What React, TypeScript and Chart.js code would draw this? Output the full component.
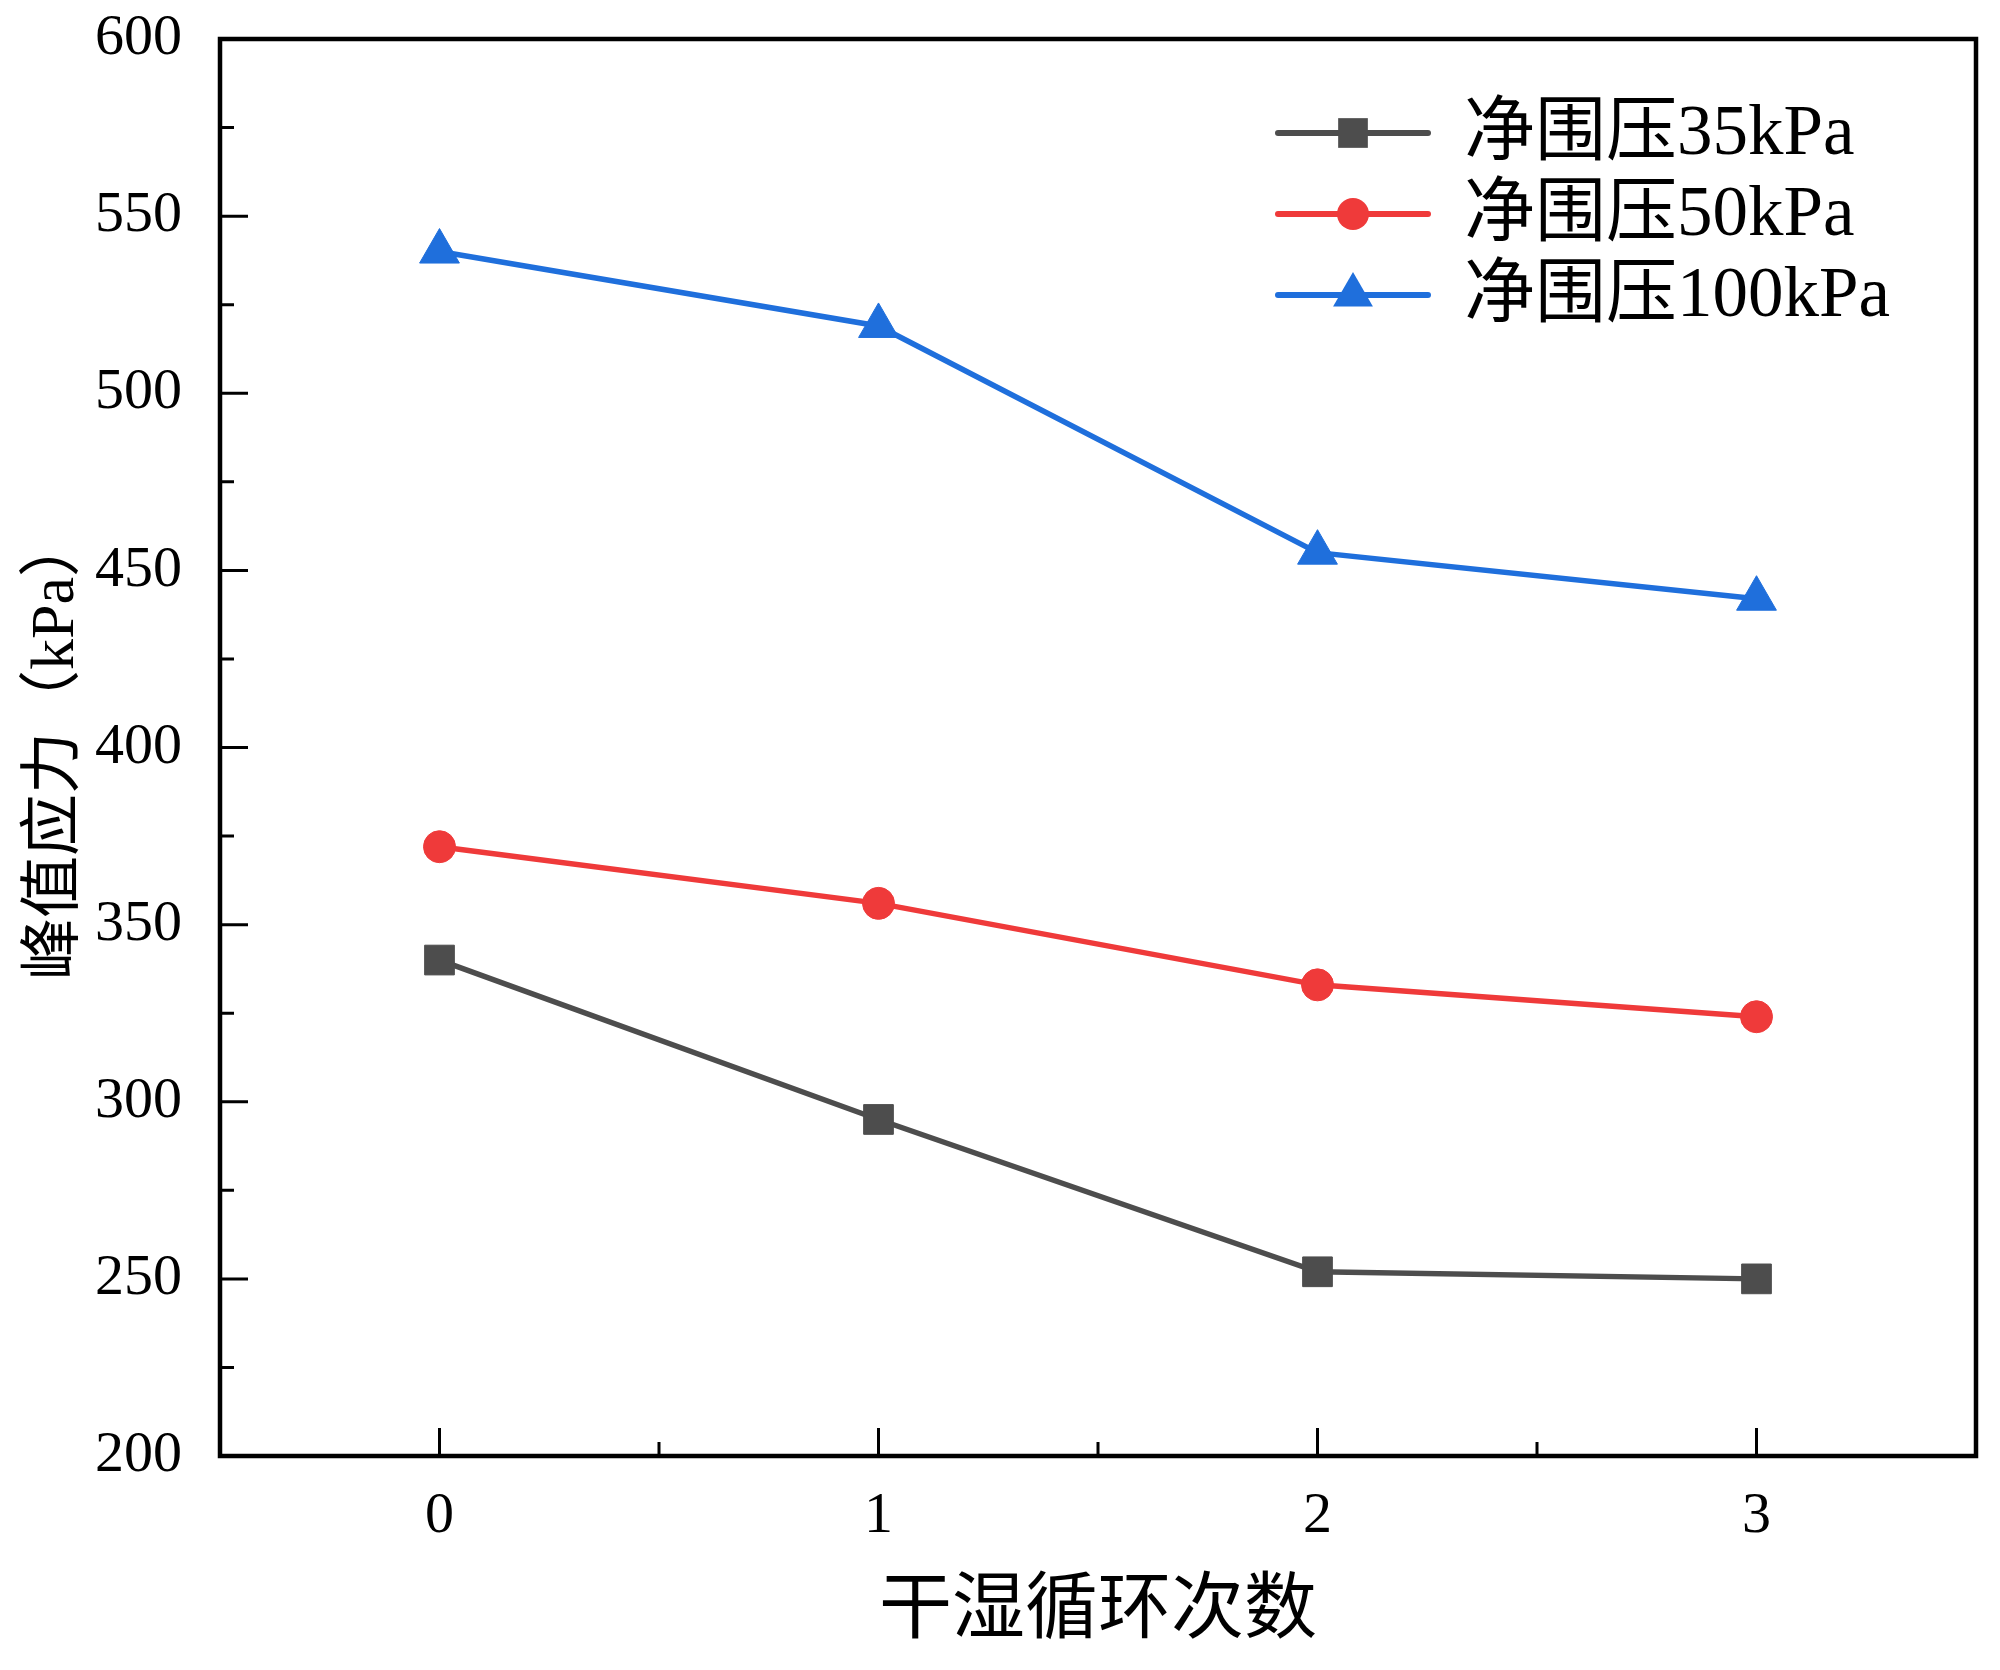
import { useEffect, useRef } from "react"
import { Chart, registerables } from "chart.js"

Chart.register(...registerables)

const cycles = [0, 1, 2, 3]
const stress35 = [340, 295, 252, 250]
const stress50 = [372, 356, 333, 324]
const stress100 = [540, 519, 455, 442]
const seriesNames = ["净围压35kPa", "净围压50kPa", "净围压100kPa"]
const yTicks = [200, 250, 300, 350, 400, 450, 500, 550, 600]
const yMinorTicks = [225, 275, 325, 375, 425, 475, 525, 575]
const xMinorTicks = [0.5, 1.5, 2.5]

const FONT = "'Liberation Serif', 'Noto Sans CJK SC', serif"
const colors = ["#4d4d4d", "#ef3a3a", "#1f6fdc"]
const pointStyles = ["rect", "circle", "triangle"]
const pointRadii = [21, 16, 23]

// frame round the plot area, with the ticks pointing inward
const framePlugin = {
	id: "frame",
	afterDraw(chart: any) {
		const { ctx, chartArea: a, scales } = chart
		ctx.save()
		ctx.strokeStyle = "#000"
		ctx.lineWidth = 4.5
		ctx.strokeRect(a.left, a.top, a.right - a.left, a.bottom - a.top)
		ctx.lineWidth = 3
		ctx.beginPath()
		yTicks.forEach((v) => {
			const y = scales.y.getPixelForValue(v)
			ctx.moveTo(a.left, y)
			ctx.lineTo(a.left + 28, y)
		})
		yMinorTicks.forEach((v) => {
			const y = scales.y.getPixelForValue(v)
			ctx.moveTo(a.left, y)
			ctx.lineTo(a.left + 14, y)
		})
		cycles.forEach((v) => {
			const x = scales.x.getPixelForValue(v)
			ctx.moveTo(x, a.bottom)
			ctx.lineTo(x, a.bottom - 28)
		})
		xMinorTicks.forEach((v) => {
			const x = scales.x.getPixelForValue(v)
			ctx.moveTo(x, a.bottom)
			ctx.lineTo(x, a.bottom - 14)
		})
		ctx.stroke()
		ctx.restore()
	}
}

function marker(ctx: CanvasRenderingContext2D, style: string, r: number, x: number, y: number) {
	ctx.beginPath()
	if (style === "rect") {
		const s = r * Math.SQRT1_2
		ctx.rect(x - s, y - s, 2 * s, 2 * s)
	} else if (style === "circle") {
		ctx.arc(x, y, r, 0, Math.PI * 2)
	} else {
		ctx.moveTo(x, y - r)
		ctx.lineTo(x + r * 0.866, y + r * 0.5)
		ctx.lineTo(x - r * 0.866, y + r * 0.5)
		ctx.closePath()
	}
	ctx.fill()
}

const legendPlugin = {
	id: "lineLegend",
	afterDraw(chart: any) {
		const { ctx } = chart
		ctx.save()
		chart.data.datasets.forEach((ds: any, i: number) => {
			const y = 133 + i * 81
			ctx.strokeStyle = ds.borderColor
			ctx.fillStyle = ds.borderColor
			ctx.lineWidth = 6
			ctx.lineCap = "round"
			ctx.beginPath()
			ctx.moveTo(1278, y)
			ctx.lineTo(1428, y)
			ctx.stroke()
			marker(ctx, ds.pointStyle, ds.pointRadius, 1353, y)
			ctx.fillStyle = "#000"
			ctx.font = `71px ${FONT}`
			ctx.textBaseline = "middle"
			ctx.textAlign = "left"
			ctx.fillText(ds.label, 1464, y + 2)
		})
		ctx.restore()
	}
}

export default function App() {
	const canvasRef = useRef<HTMLCanvasElement>(null)

	useEffect(() => {
		document.body.style.margin = "0"
		const ctx = canvasRef.current?.getContext("2d") as CanvasRenderingContext2D
		const series = [stress35, stress50, stress100]
		const chart = new Chart(ctx, {
			type: "line",
			data: {
				datasets: series.map((vals, i) => ({
					label: seriesNames[i],
					data: cycles.map((c, j) => ({ x: c, y: vals[j] })),
					borderColor: colors[i],
					backgroundColor: colors[i],
					borderWidth: 5.5,
					pointStyle: pointStyles[i],
					pointRadius: pointRadii[i],
					pointBorderWidth: 1,
					pointBorderColor: colors[i],
					pointBackgroundColor: colors[i],
					tension: 0
				}))
			},
			options: {
				animation: false,
				responsive: false,
				devicePixelRatio: 1,
				layout: { padding: { top: 39, right: 15, left: 0, bottom: 0 } },
				plugins: {
					legend: { display: false },
					tooltip: { enabled: false }
				},
				scales: {
					x: {
						type: "linear",
						min: -0.5,
						max: 3.5,
						grid: { display: false },
						border: { display: false },
						afterBuildTicks: (s: any) => {
							s.ticks = cycles.map((v) => ({ value: v }))
						},
						afterFit: (s: any) => {
							s.height = 214
							s.paddingLeft = 0
							s.paddingRight = 0
						},
						ticks: {
							color: "#000",
							padding: 18,
							font: { family: FONT, size: 58 }
						},
						title: {
							display: true,
							text: "干湿循环次数",
							color: "#000",
							font: { family: FONT, size: 73 },
							padding: { top: 0, bottom: 13 }
						}
					},
					y: {
						min: 200,
						max: 600,
						grid: { display: false },
						border: { display: false },
						afterBuildTicks: (s: any) => {
							s.ticks = yTicks.map((v) => ({ value: v }))
						},
						afterFit: (s: any) => {
							s.width = 220
							s.paddingTop = 0
							s.paddingBottom = 0
						},
						ticks: {
							color: "#000",
							padding: 30,
							font: { family: FONT, size: 58 }
						},
						title: {
							display: true,
							text: "峰值应力（kPa）",
							color: "#000",
							font: { family: FONT, size: 62 },
							padding: { top: 20, bottom: 0 }
						}
					}
				}
			},
			plugins: [framePlugin, legendPlugin]
		} as any)

		return () => {
			chart.destroy()
		}
	}, [])

	return (
		<div style={{ width: 2000, height: 1670, background: "#fff" }}>
			<canvas ref={canvasRef} width={2000} height={1670} />
		</div>
	)
}
